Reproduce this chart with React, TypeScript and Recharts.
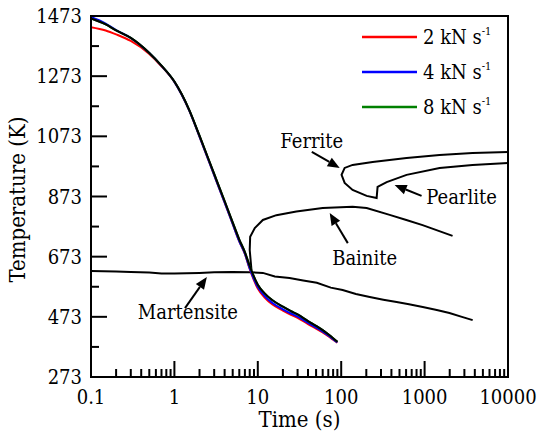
import React from "react";
import {
  LineChart,
  Line,
  XAxis,
  YAxis,
  Label,
  Legend,
  ReferenceArea,
  ReferenceLine,
  ReferenceDot,
} from "recharts";

// CCT diagram with three cooling curves (2 / 4 / 8 kN s^-1), log time axis.

const FONT = "'DejaVu Serif Condensed', 'DejaVu Serif', serif";

// cooling curves, sampled on a shared time grid (s)
const coolTimes = [0.1, 0.15, 0.2, 0.3, 0.5, 0.7, 1, 1.5, 2, 3, 4, 5, 6, 7, 8, 10, 12, 15, 20, 25, 30, 40, 50, 60, 70, 80, 90];
const rate2 = [1436, 1425, 1412, 1390, 1347, 1306, 1254, 1160, 1072, 944, 853, 782, 724, 682, 632, 567, 538, 514, 494, 480, 470, 449, 434, 421, 409, 397, 387];
const rate4 = [1470, 1448, 1426, 1400, 1350, 1307, 1254, 1160, 1072, 944, 853, 782, 724, 683, 634, 572, 543, 519, 498, 484, 474, 453, 437, 424, 411, 399, 388];
const rate8 = [1465, 1445, 1425, 1400, 1350, 1308, 1255, 1162, 1075, 948, 858, 787, 730, 688, 642, 580, 552, 528, 507, 492, 481, 459, 443, 429, 415, 402, 390];
// black curve drawn over the 8 kN line
const rateBlack = [1465, 1445, 1425, 1400, 1350, 1308, 1255, 1162, 1075, 948, 858, 787, 730, 688, 642, 580, 552, 528, 507, 492, 481, 459, 443, 429, 415, 402, 390];

// transformation lines (path order)
const martTimes = [0.1, 0.2, 0.3, 0.5, 0.7, 1, 2, 3, 5, 8, 11.5, 16, 24, 35, 51, 75, 104, 150, 220, 320, 462, 650, 950, 1400, 1985, 2800, 3770];
const martTemps = [625, 624, 622, 620, 617, 617, 619, 621, 622, 621, 619, 607, 602, 594, 586, 570, 562, 549, 539, 530, 522, 515, 506, 496, 486, 473, 462];

const bainTimes = [8.4, 8.0, 8.1, 9.2, 11.5, 16.7, 29, 60, 137, 202, 381, 604, 946, 2164];
const bainTemps = [628, 695, 739, 768, 795, 811, 823, 835, 839, 835, 812, 795, 778, 742];

const ferrTimes = [10000, 3758, 1513, 608, 238, 137, 110, 101, 110, 137, 202, 266, 273, 351, 608, 1513, 3758, 10000];
const ferrTemps = [1021, 1018, 1011, 1001, 988, 978, 968, 945, 918, 895, 875, 868, 905, 921, 945, 968, 978, 984];

// annotations: label position, arrow tail, arrow head
const noteNames = ["Ferrite", "Pearlite", "Bainite", "Martensite"];
const noteLabelAt = [[44.4, 1058], [2775, 871], [191, 669], [1.45, 489]];
const noteTail = [[44.4, 1021], [920, 875], [120, 718], [1.34, 502]];
const noteHead = [[96, 968], [437, 911], [72.8, 818], [2.45, 605]];

const xTicks = [
  0.1, 0.2, 0.3, 0.4, 0.5, 0.6, 0.7, 0.8, 0.9,
  1, 2, 3, 4, 5, 6, 7, 8, 9,
  10, 20, 30, 40, 50, 60, 70, 80, 90,
  100, 200, 300, 400, 500, 600, 700, 800, 900,
  1000, 2000, 3000, 4000, 5000, 6000, 7000, 8000, 9000,
  10000,
];
const yTicks = [273, 373, 473, 573, 673, 773, 873, 973, 1073, 1173, 1273, 1373, 1473];

const seriesNames = ["2 kN s", "4 kN s", "8 kN s"];
const seriesColors = ["#ff0000", "#0000ff", "#008000"];

const zip = (xs: number[], ys: number[]) => xs.map((t, i) => ({ t, T: ys[i] }));

const coolRows = coolTimes.map((t, i) => ({
  t,
  r2: rate2[i],
  r4: rate4[i],
  r8: rate8[i],
  rb: rateBlack[i],
}));

function XTick(props: any) {
  const { x, y, payload } = props;
  const v = payload.value as number;
  const major = Math.abs(Math.log10(v) - Math.round(Math.log10(v))) < 1e-6;
  return (
    <g>
      <line x1={x} y1={y} x2={x} y2={y - (major ? 16 : 8)} stroke="#000" strokeWidth={2} />
      {major && (
        <text x={x} y={y + 27} textAnchor="middle" fontFamily={FONT} fontStretch="condensed" fontSize={20} fill="#000">
          {String(v)}
        </text>
      )}
    </g>
  );
}

function YTick(props: any) {
  const { x, y, payload } = props;
  const v = payload.value as number;
  const major = (v - 273) % 200 === 0;
  return (
    <g>
      <line x1={x} y1={y} x2={x + (major ? 16 : 8)} y2={y} stroke="#000" strokeWidth={2} />
      {major && (
        <text x={x - 9} y={y + 7} textAnchor="end" fontFamily={FONT} fontStretch="condensed" fontSize={20} fill="#000">
          {String(v)}
        </text>
      )}
    </g>
  );
}

function Arrow(props: any) {
  const { x1, y1, x2, y2 } = props;
  const ang = Math.atan2(y2 - y1, x2 - x1);
  const len = 12;
  const w = 5;
  const bx = x2 - len * Math.cos(ang);
  const by = y2 - len * Math.sin(ang);
  const px = -Math.sin(ang) * w;
  const py = Math.cos(ang) * w;
  return (
    <g>
      <line x1={x1} y1={y1} x2={bx} y2={by} stroke="#000" strokeWidth={2} />
      <polygon points={`${x2},${y2} ${bx + px},${by + py} ${bx - px},${by - py}`} fill="#000" />
    </g>
  );
}

function noteText(name: string) {
  return (props: any) => (
    <text x={props.cx} y={props.cy} dy="0.35em" textAnchor="middle" fontFamily={FONT} fontStretch="condensed" fontSize={20} fill="#000">
      {name}
    </text>
  );
}

function LegendBox() {
  return (
    <div style={{ fontFamily: FONT, fontStretch: "condensed", fontSize: 20, color: "#000" }}>
      {seriesNames.map((n, i) => (
        <div key={n} style={{ display: "flex", alignItems: "center", height: 35.3 }}>
          <svg width={55} height={4} style={{ marginRight: 6 }}>
            <line x1={0} y1={2} x2={55} y2={2} stroke={seriesColors[i]} strokeWidth={2.5} />
          </svg>
          <span style={{ whiteSpace: "nowrap" }}>
            {n}
            <sup style={{ fontSize: 11, verticalAlign: "9px", lineHeight: 0 }}>-1</sup>
          </span>
        </div>
      ))}
    </div>
  );
}

export default function App() {
  return (
    <div style={{ position: "absolute", left: 0, top: 0, width: 538, height: 440, background: "#fff", fontFamily: FONT }}>
      <LineChart width={538} height={440} data={coolRows} margin={{ top: 16, right: 30, bottom: 0, left: 0 }}>
        <XAxis
          dataKey="t"
          type="number"
          scale="log"
          domain={[0.1, 10000]}
          allowDataOverflow
          ticks={xTicks}
          interval={0}
          tick={<XTick />}
          tickLine={false}
          tickSize={0}
          tickMargin={0}
          axisLine={{ stroke: "#000", strokeWidth: 2 }}
          height={63}
        >
          <Label
            content={(p: any) => {
              const vb = p.viewBox || { x: 91, y: 377, width: 417 };
              return (
                <text x={vb.x + vb.width / 2} y={vb.y + 50} textAnchor="middle" fontFamily={FONT} fontStretch="condensed" fontSize={22} fill="#000">
                  Time (s)
                </text>
              );
            }}
          />
        </XAxis>
        <YAxis
          type="number"
          domain={[273, 1473]}
          ticks={yTicks}
          interval={0}
          tick={<YTick />}
          tickLine={false}
          tickSize={0}
          tickMargin={0}
          axisLine={{ stroke: "#000", strokeWidth: 2 }}
          width={91}
        >
          <Label
            content={(p: any) => {
              const vb = p.viewBox || { x: 0, y: 16, height: 361 };
              const cx = 17;
              const cy = vb.y + vb.height / 2 + 3;
              return (
                <text
                  x={cx}
                  y={cy}
                  dy="0.35em"
                  textAnchor="middle"
                  transform={`rotate(-90 ${cx} ${cy})`}
                  fontFamily={FONT}
                  fontStretch="condensed"
                  fontSize={22}
                  fill="#000"
                >
                  Temperature (K)
                </text>
              );
            }}
          />
        </YAxis>
        <ReferenceArea x1={0.1} x2={10000} y1={273} y2={1473} fill="none" stroke="#000" strokeWidth={2} />
        <Legend
          layout="horizontal"
          verticalAlign="middle"
          align="center"
          content={<LegendBox />}
          wrapperStyle={{ left: 362, top: 19, width: 170, bottom: "auto", right: "auto" }}
        />

        <Line data={zip(martTimes, martTemps)} dataKey="T" stroke="#000" strokeWidth={2} dot={false} type="linear" isAnimationActive={false} legendType="none" />
        <Line data={zip(bainTimes, bainTemps)} dataKey="T" stroke="#000" strokeWidth={2} dot={false} type="linear" isAnimationActive={false} legendType="none" />
        <Line data={zip(ferrTimes, ferrTemps)} dataKey="T" stroke="#000" strokeWidth={2} dot={false} type="linear" isAnimationActive={false} legendType="none" />

        <Line dataKey="r2" name={seriesNames[0]} stroke={seriesColors[0]} strokeWidth={2} dot={false} type="monotone" isAnimationActive={false} />
        <Line dataKey="r4" name={seriesNames[1]} stroke={seriesColors[1]} strokeWidth={2} dot={false} type="monotone" isAnimationActive={false} />
        <Line dataKey="r8" name={seriesNames[2]} stroke={seriesColors[2]} strokeWidth={2} dot={false} type="monotone" isAnimationActive={false} />
        <Line dataKey="rb" stroke="#000" strokeWidth={2} dot={false} type="monotone" isAnimationActive={false} legendType="none" />

        {noteNames.map((n, i) => (
          <ReferenceLine
            key={`a-${n}`}
            segment={[
              { x: noteTail[i][0], y: noteTail[i][1] },
              { x: noteHead[i][0], y: noteHead[i][1] },
            ]}
            shape={<Arrow />}
          />
        ))}
        {noteNames.map((n, i) => (
          <ReferenceDot key={`l-${n}`} x={noteLabelAt[i][0]} y={noteLabelAt[i][1]} r={0} shape={noteText(n)} />
        ))}
      </LineChart>
    </div>
  );
}
